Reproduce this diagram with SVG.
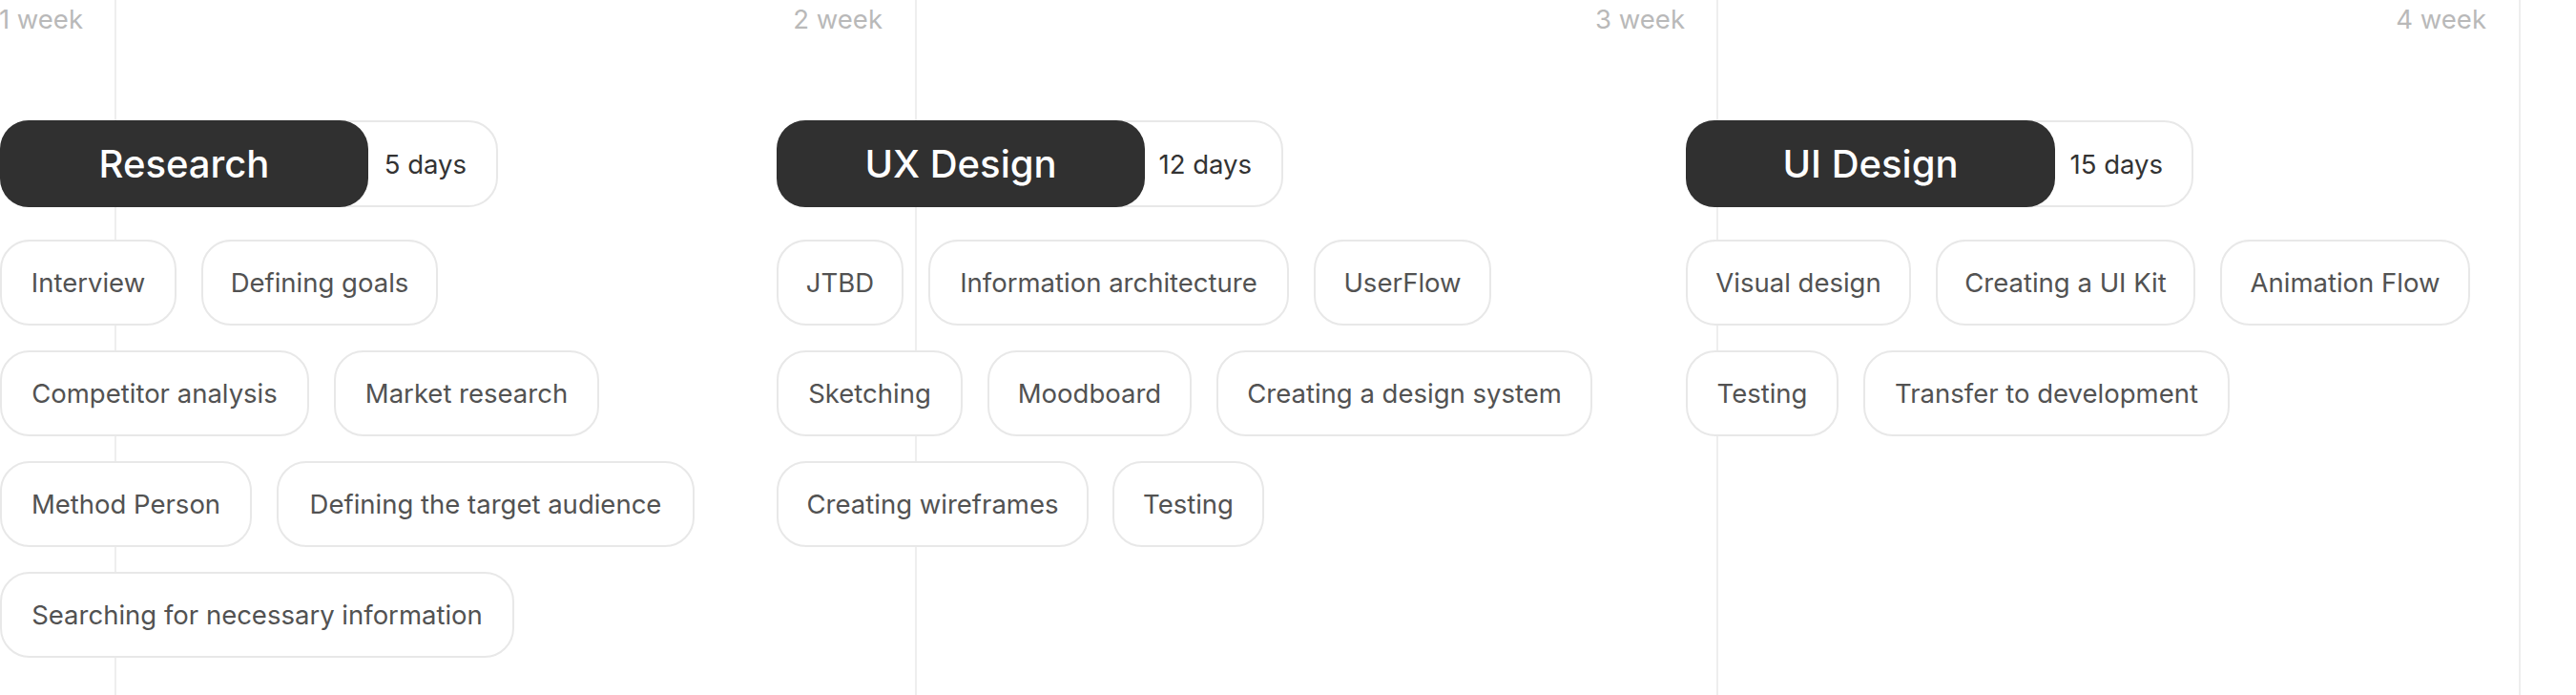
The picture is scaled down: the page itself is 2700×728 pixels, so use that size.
<svg xmlns="http://www.w3.org/2000/svg" width="2700" height="728" viewBox="0 0 2700 728">
<style>
.bg{fill:#ffffff}
.grid{stroke:#eeeeee;stroke-width:2}
.wk{font-family:Inter,"Liberation Sans",sans-serif;font-size:27.5px;fill:#b9b9b9;text-anchor:end}
.chip{fill:#ffffff;stroke:#e8e8e8;stroke-width:2}
.ct{font-family:Inter,"Liberation Sans",sans-serif;font-size:27.5px;fill:#525252;text-anchor:middle}
.dark{fill:#303030}
.ht{font-family:Inter,"Liberation Sans",sans-serif;font-size:40px;font-weight:500;fill:#ffffff;text-anchor:middle}
.dt{font-family:Inter,"Liberation Sans",sans-serif;font-size:27.5px;fill:#333333;text-anchor:end}
</style>
<rect class="bg" x="0" y="0" width="2700" height="728"/>
<g id="timeline">
<line class="grid" x1="121" y1="0" x2="121" y2="728"/>
<line class="grid" x1="960" y1="0" x2="960" y2="728"/>
<line class="grid" x1="1800" y1="0" x2="1800" y2="728"/>
<line class="grid" x1="2641" y1="0" x2="2641" y2="728"/>
<text class="wk" x="87" y="30">1 week</text>
<text class="wk" x="925" y="30">2 week</text>
<text class="wk" x="1766" y="30">3 week</text>
<text class="wk" x="2606" y="30">4 week</text>
</g>
<g id="connectors"></g>

<g id="research">
<rect class="chip" x="1" y="127" width="520" height="89" rx="30"/>
<rect class="dark" x="0" y="126" width="386" height="91" rx="30"/>
<text class="ht" x="193" y="186">Research</text>
<text class="dt" x="489" y="182">5 days</text>
</g>
<g id="r-interview"><rect class="chip" x="1" y="252" width="183" height="88" rx="30"/><text class="ct" x="92.5" y="306">Interview</text></g>
<g id="r-goals"><rect class="chip" x="212" y="252" width="246" height="88" rx="30"/><text class="ct" x="335" y="306">Defining goals</text></g>
<g id="r-competitor"><rect class="chip" x="1" y="368" width="322" height="88" rx="30"/><text class="ct" x="162" y="422">Competitor analysis</text></g>
<g id="r-market"><rect class="chip" x="351" y="368" width="276" height="88" rx="30"/><text class="ct" x="489" y="422">Market research</text></g>
<g id="r-method"><rect class="chip" x="1" y="484" width="262" height="88" rx="30"/><text class="ct" x="132" y="538">Method Person</text></g>
<g id="r-audience"><rect class="chip" x="291" y="484" width="436" height="88" rx="30"/><text class="ct" x="509" y="538">Defining the target audience</text></g>
<g id="r-searching"><rect class="chip" x="1" y="600" width="537" height="88" rx="30"/><text class="ct" x="269.5" y="654">Searching for necessary information</text></g>

<g id="uxdesign">
<rect class="chip" x="815" y="127" width="529" height="89" rx="30"/>
<rect class="dark" x="814" y="126" width="386" height="91" rx="30"/>
<text class="ht" x="1007" y="186">UX Design</text>
<text class="dt" x="1312" y="182">12 days</text>
</g>
<g id="ux-jtbd"><rect class="chip" x="815" y="252" width="131" height="88" rx="30"/><text class="ct" x="880.5" y="306">JTBD</text></g>
<g id="ux-ia"><rect class="chip" x="974" y="252" width="376" height="88" rx="30"/><text class="ct" x="1162" y="306">Information architecture</text></g>
<g id="ux-userflow"><rect class="chip" x="1378" y="252" width="184" height="88" rx="30"/><text class="ct" x="1470" y="306">UserFlow</text></g>
<g id="ux-sketching"><rect class="chip" x="815" y="368" width="193" height="88" rx="30"/><text class="ct" x="911.5" y="422">Sketching</text></g>
<g id="ux-moodboard"><rect class="chip" x="1036" y="368" width="212" height="88" rx="30"/><text class="ct" x="1142" y="422">Moodboard</text></g>
<g id="ux-ds"><rect class="chip" x="1276" y="368" width="392" height="88" rx="30"/><text class="ct" x="1472" y="422">Creating a design system</text></g>
<g id="ux-wireframes"><rect class="chip" x="815" y="484" width="325" height="88" rx="30"/><text class="ct" x="977.5" y="538">Creating wireframes</text></g>
<g id="ux-testing"><rect class="chip" x="1167" y="484" width="157" height="88" rx="30"/><text class="ct" x="1245.5" y="538">Testing</text></g>

<g id="uidesign">
<rect class="chip" x="1768" y="127" width="530" height="89" rx="30"/>
<rect class="dark" x="1767" y="126" width="387" height="91" rx="30"/>
<text class="ht" x="1960.5" y="186">UI Design</text>
<text class="dt" x="2267" y="182">15 days</text>
</g>
<g id="ui-visual"><rect class="chip" x="1768" y="252" width="234" height="88" rx="30"/><text class="ct" x="1885" y="306">Visual design</text></g>
<g id="ui-kit"><rect class="chip" x="2030" y="252" width="270" height="88" rx="30"/><text class="ct" x="2165" y="306">Creating a UI Kit</text></g>
<g id="ui-animation"><rect class="chip" x="2328" y="252" width="260" height="88" rx="30"/><text class="ct" x="2458" y="306">Animation Flow</text></g>
<g id="ui-testing"><rect class="chip" x="1768" y="368" width="158" height="88" rx="30"/><text class="ct" x="1847" y="422">Testing</text></g>
<g id="ui-transfer"><rect class="chip" x="1954" y="368" width="382" height="88" rx="30"/><text class="ct" x="2145" y="422">Transfer to development</text></g>
</svg>
